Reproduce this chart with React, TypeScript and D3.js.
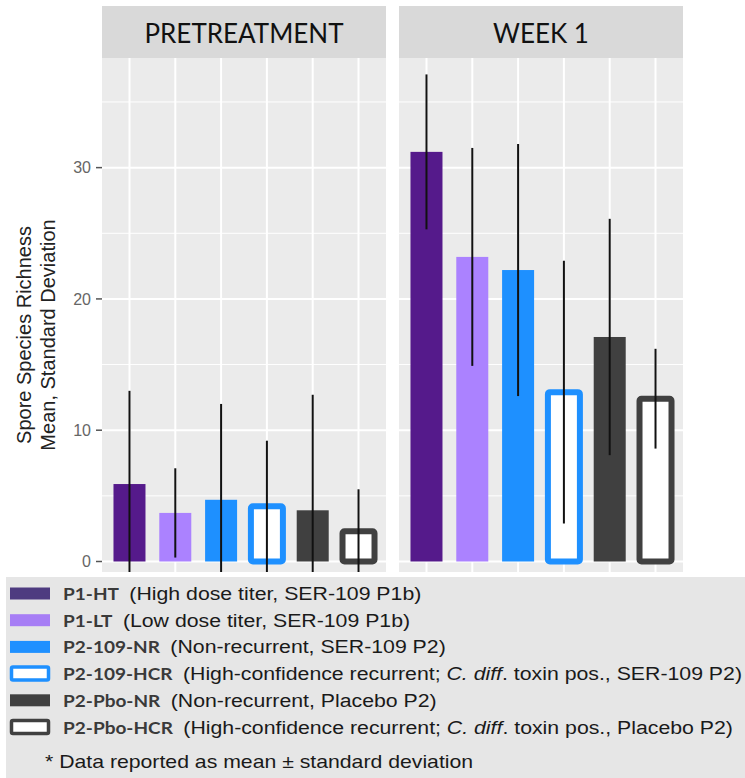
import React from "react";
import * as d3 from "d3";

const categories = ["P1-HT", "P1-LT", "P2-109-NR", "P2-109-HCR", "P2-Pbo-NR", "P2-Pbo-HCR"];
const panels = ["PRETREATMENT", "WEEK 1"];
const pretreatMean = [5.9, 3.7, 4.7, 4.2, 3.9, 2.3];
const pretreatSD = [7.1, 3.4, 7.3, 5.0, 8.8, 3.2];
const week1Mean = [31.2, 23.2, 22.2, 12.9, 17.1, 12.4];
const week1SD = [5.9, 8.3, 9.6, 10.0, 9.0, 3.8];
const barColors = ["#551a8b", "#ab82ff", "#1e90ff", "#1e90ff", "#404040", "#404040"];
const legendColors = ["#4e3b80", "#a77ef5", "#1e90ff", "#1e90ff", "#404040", "#404040"];
const hollow = [false, false, false, true, false, true];
const yTicks = [0, 10, 20, 30];
const yMinor = [5, 15, 25, 35];
const descriptions: (string | { i: string })[][] = [
  ["(High dose titer, SER-109 P1b)"],
  ["(Low dose titer, SER-109 P1b)"],
  ["(Non-recurrent, SER-109 P2)"],
  ["(High-confidence recurrent; ", { i: "C. diff" }, ". toxin pos., SER-109 P2)"],
  ["(Non-recurrent, Placebo P2)"],
  ["(High-confidence recurrent; ", { i: "C. diff" }, ". toxin pos., Placebo P2)"],
];
const yTitle = ["Spore Species Richness", "Mean, Standard Deviation"];
const footnote = "* Data reported as mean ± standard deviation";

const W = 745;
const H = 778;
const panelX: [number, number][] = [
  [102, 386],
  [399, 683],
];
const stripTop = 6;
const panelTop = 58;
const panelBottom = 572;

export default function App() {
  const y = d3.scaleLinear().domain([-0.8, 38.35]).range([panelBottom, panelTop]);
  const data = [
    { mean: pretreatMean, sd: pretreatSD },
    { mean: week1Mean, sd: week1SD },
  ];
  const barW = 32;
  return (
    <svg width={W} height={H} style={{ position: "absolute", left: 0, top: 0 }}>
      <rect x={0} y={0} width={W} height={H} fill="#ffffff" />
      <defs>
        {panelX.map(([x0, x1], p) => (
          <clipPath id={`clip${p}`} key={p}>
            <rect x={x0} y={panelTop} width={x1 - x0} height={panelBottom - panelTop} />
          </clipPath>
        ))}
      </defs>
      {panelX.map(([x0, x1], p) => {
        const x = d3.scalePoint<string>().domain(categories).range([x0, x1]).padding(0.6);
        const d = data[p];
        return (
          <g key={p}>
            <rect x={x0} y={stripTop} width={x1 - x0} height={panelTop - stripTop} fill="#d9d9d9" />
            <text
              x={(x0 + x1) / 2}
              y={43}
              textAnchor="middle"
              fontFamily="Lato, 'Open Sans', sans-serif"
              fontSize={26}
              fill="#111111"
            >
              {panels[p]}
            </text>
            <rect x={x0} y={panelTop} width={x1 - x0} height={panelBottom - panelTop} fill="#ebebeb" />
            {yMinor.map((t) => (
              <line key={"m" + t} x1={x0} x2={x1} y1={y(t)} y2={y(t)} stroke="#ffffff" strokeWidth={1} />
            ))}
            {yTicks.map((t) => (
              <line key={"M" + t} x1={x0} x2={x1} y1={y(t)} y2={y(t)} stroke="#ffffff" strokeWidth={2} />
            ))}
            {categories.map((c) => (
              <line key={"v" + c} x1={x(c)} x2={x(c)} y1={panelTop} y2={panelBottom} stroke="#ffffff" strokeWidth={2} />
            ))}
            <g clipPath={`url(#clip${p})`}>
              {categories.map((c, i) => {
                const cx = x(c) as number;
                const top = y(d.mean[i]);
                const base = y(0);
                return hollow[i] ? (
                  <rect
                    key={"b" + c}
                    x={cx - barW / 2}
                    y={top}
                    width={barW}
                    height={base - top}
                    fill="#ffffff"
                    stroke={barColors[i]}
                    strokeWidth={6}
                    rx={2}
                  />
                ) : (
                  <rect key={"b" + c} x={cx - barW / 2} y={top} width={barW} height={base - top} fill={barColors[i]} />
                );
              })}
              {categories.map((c, i) => {
                const cx = x(c) as number;
                return (
                  <line
                    key={"e" + c}
                    x1={cx}
                    x2={cx}
                    y1={y(d.mean[i] + d.sd[i])}
                    y2={y(d.mean[i] - d.sd[i])}
                    stroke="#111111"
                    strokeWidth={2}
                  />
                );
              })}
            </g>
          </g>
        );
      })}
      {yTicks.map((t) => (
        <g key={"t" + t}>
          <line x1={96} x2={102} y1={y(t)} y2={y(t)} stroke="#555555" strokeWidth={1.5} />
          <text
            x={91}
            y={y(t)}
            dy="0.35em"
            textAnchor="end"
            fontFamily="Arial, 'Liberation Sans', sans-serif"
            fontSize={16}
            fill="#666666"
          >
            {t}
          </text>
        </g>
      ))}
      {yTitle.map((s, k) => (
        <text
          key={s}
          transform={`translate(${31 + k * 24}, 335) rotate(-90)`}
          textAnchor="middle"
          fontFamily="Arial, 'Liberation Sans', sans-serif"
          fontSize={20}
          fill="#222222"
        >
          {s}
        </text>
      ))}
      <rect x={6} y={577} width={W - 6} height={H - 577} fill="#e6e6e6" />
      {categories.map((c, i) => {
        const cy = 593.5 + i * 26.7;
        return (
          <g key={"l" + c}>
            {hollow[i] ? (
              <rect x={11.5} y={cy - 6.5} width={37} height={13} fill="#ffffff" stroke={legendColors[i]} strokeWidth={3.5} rx={1.5} />
            ) : (
              <rect x={10} y={cy - 6} width={40} height={12} fill={legendColors[i]} />
            )}
            <g transform={`translate(63, ${cy + 6.5}) scale(1.12, 1)`}>
              <text x={0} y={0} fontFamily="Arial, 'Liberation Sans', sans-serif" fontSize={19} fill="#1a1a1a">
                <tspan fontFamily="Lato, sans-serif" fontSize={17} fontWeight={700} fill="#3a3a3a">
                  {c}
                </tspan>
                <tspan dx={4}>{" "}</tspan>
                {descriptions[i].map((part, k) =>
                  typeof part === "string" ? (
                    <tspan key={k}>{part}</tspan>
                  ) : (
                    <tspan key={k} fontStyle="italic">
                      {part.i}
                    </tspan>
                  )
                )}
              </text>
            </g>
          </g>
        );
      })}
      <g transform={`translate(45, 768) scale(1.18, 1)`}>
        <text x={0} y={0} fontFamily="Arial, 'Liberation Sans', sans-serif" fontSize={18} fill="#1a1a1a">
          {footnote}
        </text>
      </g>
    </svg>
  );
}
